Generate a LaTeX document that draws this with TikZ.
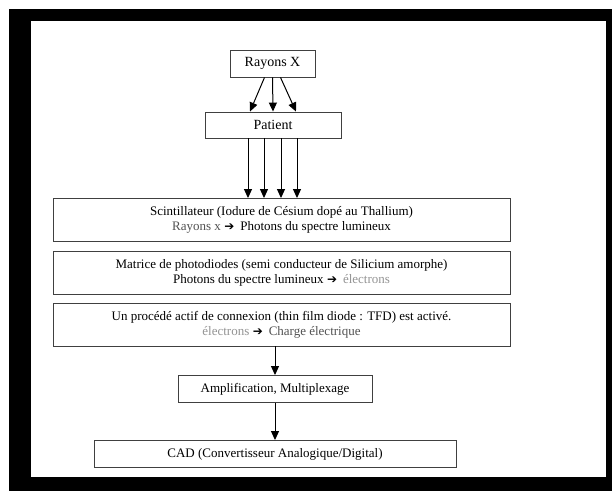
\documentclass[tikz,border=0pt]{standalone}
\usepackage{fontspec}
\setmainfont{Liberation Serif}
\newfontfamily\flechefont{DejaVu Sans}
\usetikzlibrary{arrows.meta}
\newcommand{\fleche}{\;{\flechefont\fontsize{12}{12}\selectfont ➔}\;\,}
\definecolor{pale}{gray}{0.58}
\definecolor{mid}{gray}{0.32}

\begin{document}
\begin{tikzpicture}[x=1pt, y=-1pt, >={Triangle[width=8pt,length=9pt]},
	box/.style={draw=black!75, line width=0.9pt, inner sep=0pt, align=center},
	topbox/.style={box, font=\fontsize{14}{16}\selectfont},
	bigbox/.style={box, minimum width=457pt, minimum height=43pt,
		font=\fontsize{13}{15}\selectfont},
	midbox/.style={box, minimum height=27pt, font=\fontsize{13}{15}\selectfont}]
	\useasboundingbox (0,0) rectangle (612,491);
	\fill[black] (9,9) rectangle (612,491);
	\fill[white] (31,21) rectangle (606,477);

	\node[topbox, minimum width=85pt, minimum height=27pt] (rayons) at (272.5,63.5) {Rayons X};
	\node[topbox, minimum width=136pt, minimum height=26pt] (patient) at (273,125) {Patient};
	\node[bigbox] (scint) at (281.5,220) {Scintillateur (Iodure de Césium dopé au Thallium)\\
		\textcolor{mid}{Rayons x}\fleche Photons du spectre lumineux};
	\node[bigbox] (matrice) at (281.5,272.5) {Matrice de photodiodes (semi conducteur de Silicium amorphe)\\
		Photons du spectre lumineux\fleche \textcolor{pale}{électrons}};
	\node[bigbox] (procede) at (281.5,324.5) {Un procédé actif de connexion (thin film diode : TFD) est activé.\\
		\textcolor{pale}{électrons}\fleche \textcolor{mid}{Charge électrique}};
	\node[midbox, minimum width=194pt] (ampli) at (275,389) {Amplification, Multiplexage};
	\node[midbox, minimum width=362pt] (cad) at (275,454) {CAD (Convertisseur Analogique/Digital)};

	\path[->, line width=1pt]
	([xshift=-8pt]rayons.south) edge ([xshift=-23pt]patient.north)
	(rayons.south) edge (patient.north)
	([xshift=8pt]rayons.south) edge ([xshift=23pt]patient.north)
	(ampli.north |- procede.south) edge (ampli.north)
	(ampli.south) edge (cad.north);
	\foreach \d in {-25,-9,8,24}
		\draw[->, line width=1pt] ([xshift=\d pt]patient.south) -- ([xshift=\d pt]patient.south |- scint.north);
\end{tikzpicture}
\end{document}
